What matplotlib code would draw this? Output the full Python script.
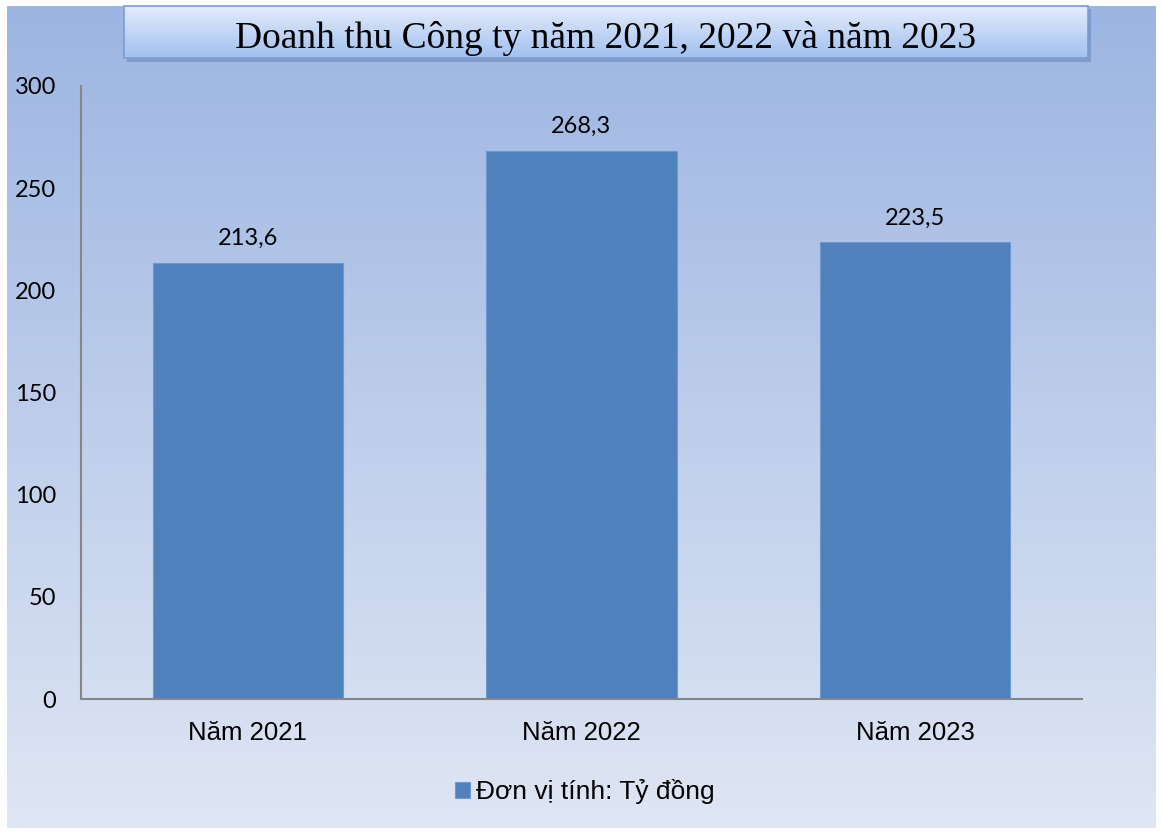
import numpy as np
import matplotlib
matplotlib.use("Agg")
import matplotlib.pyplot as plt
from matplotlib.patches import Rectangle
from matplotlib.colors import LinearSegmentedColormap

categories = ["Năm 2021", "Năm 2022", "Năm 2023"]
values = [213.6, 268.3, 223.5]
value_labels = ["213,6", "268,3", "223,5"]
yticks = [0, 50, 100, 150, 200, 250, 300]
title = "Doanh thu Công ty năm 2021, 2022 và năm 2023"
legend_label = "Đơn vị tính: Tỷ đồng"

W, H = 1162, 832
fig = plt.figure(figsize=(W / 100, H / 100), dpi=100)
fig.patch.set_facecolor("white")

# background gradient
bg = fig.add_axes([7 / W, 1 - 828 / H, (1156 - 7) / W, (828 - 6) / H], zorder=0)
bg_cmap = LinearSegmentedColormap.from_list("bg", ["#9cb5e2", "#dfe6f4"])
bg.imshow(np.linspace(0, 1, 256).reshape(-1, 1), aspect="auto", cmap=bg_cmap,
          extent=[0, 1, 1, 0])
bg.set_axis_off()

# title box
tb = fig.add_axes([0, 0, 1, 1], zorder=1)
tb.set_axis_off()
tb.patch.set_alpha(0)
tb.add_patch(Rectangle((127, 9), 964, 53, facecolor="#5f77a6", alpha=0.45,
                       edgecolor="none", zorder=1))
tb_cmap = LinearSegmentedColormap.from_list("tb", ["#e3ecfb", "#a2c0f0"])
tb.imshow(np.linspace(0, 1, 128).reshape(-1, 1), aspect="auto", cmap=tb_cmap,
          extent=[124, 1088, 58, 6], zorder=2)
tb.add_patch(Rectangle((124, 6), 964, 52, facecolor="none", edgecolor="#7a9dd6",
                       linewidth=1.2, zorder=3))
tb.text(606, 38, title, ha="center", va="center", fontsize=27,
        family="Liberation Serif", color="black", zorder=4)
tb.set_xlim(0, W)
tb.set_ylim(H, 0)

# main axes
ax = fig.add_axes([81 / W, 1 - 699 / H, (1082 - 81) / W, (699 - 86) / H], zorder=2)
ax.patch.set_alpha(0)
x = np.arange(len(categories))
bars = ax.bar(x, values, width=0.57, color="#4f81bd", edgecolor="#6f98cc",
              linewidth=0.8, label=legend_label)
ax.set_xlim(-0.5, 2.5)
ax.set_ylim(0, 300)
ax.set_yticks(yticks)
ax.set_yticklabels([str(t) for t in yticks], family="Lato", fontsize=17)
ax.set_xticks(x)
ax.set_xticklabels(categories, family="Liberation Sans", fontsize=18.5)
ax.tick_params(axis="both", length=0, colors="black")
ax.tick_params(axis="y", pad=18)
ax.tick_params(axis="x", pad=16)
for s in ["top", "right"]:
    ax.spines[s].set_visible(False)
for s in ["left", "bottom"]:
    ax.spines[s].set_color("#868686")
    ax.spines[s].set_linewidth(1.5)

for xi, v, lab in zip(x, values, value_labels):
    ax.annotate(lab, (xi, v), xytext=(0, 10), textcoords="offset points",
                ha="center", va="bottom", family="Lato", fontsize=17)

fig.legend(handles=[bars], labels=[legend_label], loc="center",
           bbox_to_anchor=(585 / W, 1 - 792 / H), frameon=False,
           prop={"family": "Liberation Sans", "size": 19},
           handlelength=0.55, handleheight=0.55, handletextpad=0.25)

fig.savefig("out.png", dpi=100)
